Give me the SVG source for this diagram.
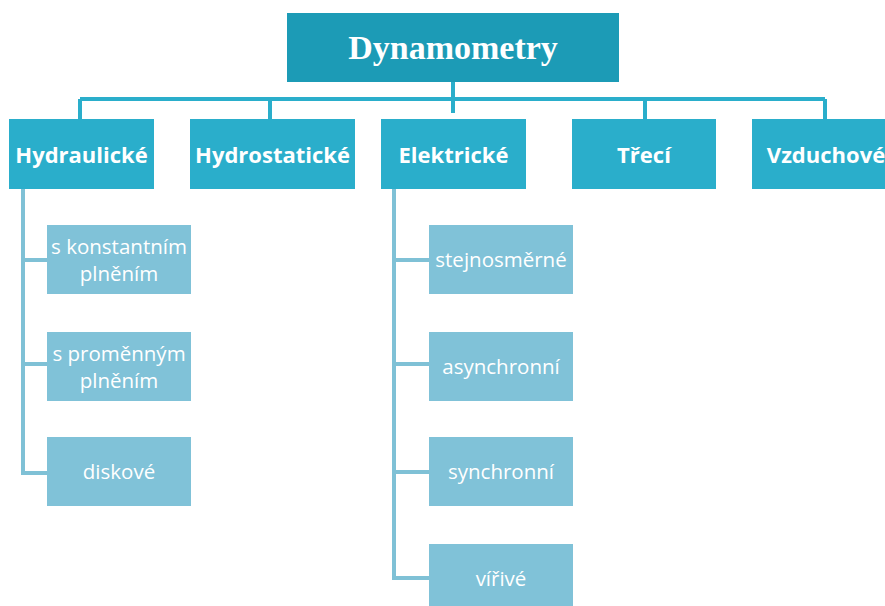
<svg xmlns="http://www.w3.org/2000/svg" width="885" height="606" viewBox="0 0 885 606">
<style>
.root{fill:#1c9bb6}
.l1{fill:#2aaecb}
.l2{fill:#80c2d8}
.t0{font-family:"Liberation Serif",serif;font-weight:bold;font-size:34px;fill:#fff;text-anchor:middle}
.t1{font-family:"Open Sans",sans-serif;font-weight:bold;font-size:22px;fill:#fff;text-anchor:middle}
.t2{font-family:"Open Sans",sans-serif;font-size:20.5px;fill:#fff;text-anchor:middle}
.bus{stroke:#2aaecb;stroke-width:4;fill:none}
.sub{stroke:#7fc1d6;stroke-width:4;fill:none}
</style>
<rect width="885" height="606" fill="#fff"/>
<g id="connectors">
<path class="bus" d="M453 82V113M80 99H825M80 99V119M270 99V119M645 99V119M825 99V119"/>
<path class="sub" d="M23 189V473H47M23 260H47M23 364H47"/>
<path class="sub" d="M394 189V578H429M394 260H429M394 364H429M394 472H429"/>
</g>
<g id="n-root"><rect class="root" x="287" y="13" width="332" height="69"/><text class="t0" x="453" y="59">Dynamometry</text></g>
<g id="n-hydraulicke"><rect class="l1" x="9" y="119" width="145" height="70"/><text class="t1" x="81.5" y="163">Hydraulické</text></g>
<g id="n-hydrostaticke"><rect class="l1" x="190" y="119" width="165" height="70"/><text class="t1" x="272.5" y="163">Hydrostatické</text></g>
<g id="n-elektricke"><rect class="l1" x="381" y="119" width="145" height="70"/><text class="t1" x="453.5" y="163">Elektrické</text></g>
<g id="n-treci"><rect class="l1" x="572" y="119" width="144" height="70"/><text class="t1" x="644" y="163">Třecí</text></g>
<g id="n-vzduchove"><rect class="l1" x="752" y="119" width="145" height="70"/><text class="t1" x="826" y="163">Vzduchové</text></g>
<g id="n-konst"><rect class="l2" x="47" y="225" width="144" height="69"/><text class="t2" x="119" y="254">s konstantním</text><text class="t2" x="119" y="281">plněním</text></g>
<g id="n-prom"><rect class="l2" x="47" y="332" width="144" height="69"/><text class="t2" x="119" y="361">s proměnným</text><text class="t2" x="119" y="388">plněním</text></g>
<g id="n-diskove"><rect class="l2" x="47" y="437" width="144" height="69"/><text class="t2" x="119" y="479">diskové</text></g>
<g id="n-stejnosmerne"><rect class="l2" x="429" y="225" width="144" height="69"/><text class="t2" x="501" y="267">stejnosměrné</text></g>
<g id="n-asynchronni"><rect class="l2" x="429" y="332" width="144" height="69"/><text class="t2" x="501" y="374">asynchronní</text></g>
<g id="n-synchronni"><rect class="l2" x="429" y="437" width="144" height="69"/><text class="t2" x="501" y="479">synchronní</text></g>
<g id="n-virive"><rect class="l2" x="429" y="544" width="144" height="69"/><text class="t2" x="501" y="586">vířivé</text></g>
</svg>
